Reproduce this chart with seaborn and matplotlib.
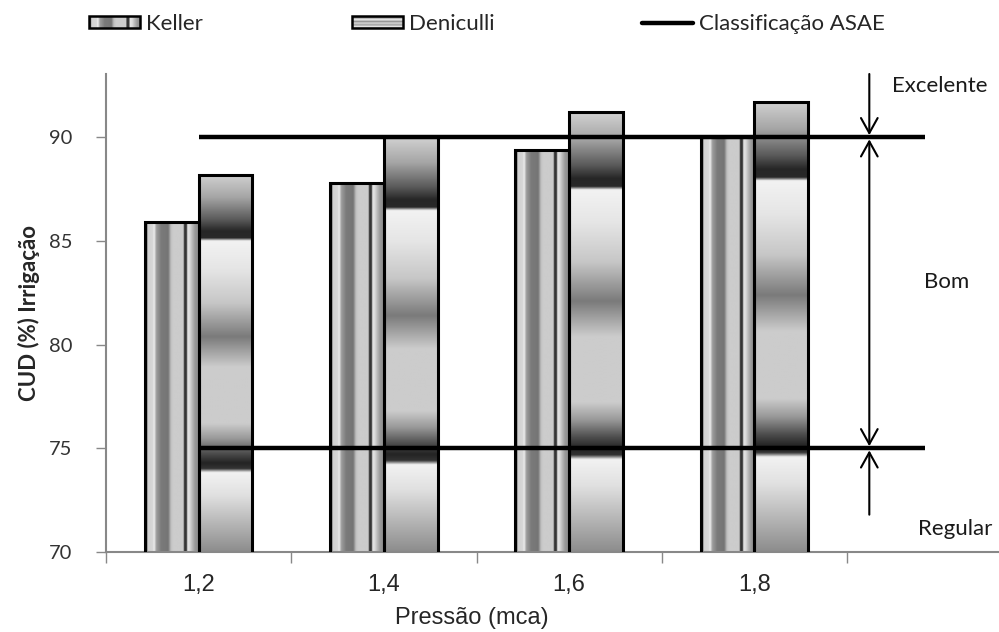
import numpy as np
import pandas as pd
import matplotlib
matplotlib.use("Agg")
import matplotlib.pyplot as plt
import seaborn as sns
from matplotlib.patches import Rectangle, Patch
from matplotlib.lines import Line2D
from matplotlib.legend_handler import HandlerBase
from matplotlib.image import BboxImage
from matplotlib.transforms import Bbox, TransformedBbox

# ---- data ----
categories = ["1,2", "1,4", "1,6", "1,8"]
series = ["Keller", "Deniculli"]
keller = [85.9, 87.8, 89.4, 90.0]
deniculli = [88.2, 90.0, 91.2, 91.7]
asae_levels = [90, 75]
asae_label = "Classificação ASAE"
classes = ["Excelente", "Bom", "Regular"]
y_ticks = [70, 75, 80, 85, 90]

sns.set_theme(style="white")
plt.rcParams["font.family"] = ["Lato", "DejaVu Sans"]

# chrome-like shading stops (position, grey level)
stripe_stops = [(0.00, 0.35), (0.035, 0.35), (0.05, 0.82), (0.14, 0.84), (0.17, 0.93),
                (0.21, 0.62), (0.30, 0.48), (0.43, 0.46), (0.48, 0.75), (0.52, 0.80),
                (0.71, 0.80), (0.73, 0.20), (0.77, 0.22), (0.79, 0.90), (0.83, 0.86),
                (0.88, 0.72), (0.93, 0.60), (1.00, 0.55)]
band_stops = [(0.00, 0.82), (0.06, 0.65), (0.12, 0.35), (0.15, 0.15), (0.168, 0.16),
              (0.176, 0.95), (0.25, 0.90), (0.34, 0.78), (0.43, 0.48), (0.51, 0.80),
              (0.66, 0.80), (0.70, 0.60), (0.74, 0.30), (0.765, 0.14), (0.78, 0.20),
              (0.79, 0.95), (0.85, 0.88), (1.00, 0.55)]


def shade(stops, n=400):
    pos, val = zip(*stops)
    g = np.interp(np.linspace(0, 1, n), pos, val)
    return np.repeat(g[:, None], 3, axis=1)


stripes = shade(stripe_stops)[None, :, :]      # varies across width
bands = shade(band_stops)[:, None, :]          # varies from top to bottom

df = pd.DataFrame({
    "Pressão": categories * 2,
    "CUD": keller + deniculli,
    "Método": [series[0]] * len(keller) + [series[1]] * len(deniculli),
})

fig = plt.figure(figsize=(9.99, 6.32), dpi=100)
ax = fig.add_axes([106 / 999, 80 / 632, 893 / 999, 478 / 632])

sns.barplot(data=df, x="Pressão", y="CUD", hue="Método", order=categories,
            hue_order=series, width=0.58, gap=0, dodge=True, ax=ax,
            legend=False, edgecolor="black", linewidth=2.2, errorbar=None)

ymin, ymax = 70, 93.05
xmin, xmax = -0.5, 4.32
n = len(categories)
for i, bar in enumerate(ax.patches):
    fill = stripes if i < n else bands
    x0 = bar.get_x()
    w = bar.get_width()
    top = bar.get_y() + bar.get_height()
    im = ax.imshow(fill, extent=[x0, x0 + w, ymin, top], aspect="auto",
                   origin="upper", interpolation="bilinear", zorder=2)
    im.set_clip_path(bar)
    bar.set_facecolor("none")
    bar.set_zorder(3)

# ASAE classification limits
ax.hlines(asae_levels, 0, 3.92, colors="black", linewidth=3.2, zorder=4)

# class arrows
arrow_x = 3.62
head = "head_length=0.9,head_width=0.5"
ax.annotate("", xy=(arrow_x, asae_levels[0] + 0.1), xytext=(arrow_x, ymax),
            arrowprops=dict(arrowstyle="->," + head, lw=1.5, color="black",
                            shrinkA=0, shrinkB=0), annotation_clip=False)
ax.annotate("", xy=(arrow_x, asae_levels[0] - 0.1), xytext=(arrow_x, asae_levels[1] + 0.1),
            arrowprops=dict(arrowstyle="<->," + head, lw=1.5, color="black",
                            shrinkA=0, shrinkB=0))
ax.annotate("", xy=(arrow_x, asae_levels[1] - 0.1), xytext=(arrow_x, 71.8),
            arrowprops=dict(arrowstyle="->," + head, lw=1.5, color="black",
                            shrinkA=0, shrinkB=0))

ax.text(3.745, 92.45, classes[0], fontsize=16, ha="left", va="center", color="#1a1a1a")
ax.text(4.04, 83.0, classes[1], fontsize=16, ha="center", va="center", color="#1a1a1a")
ax.text(3.885, 71.1, classes[2], fontsize=16, ha="left", va="center", color="#1a1a1a")

# axes styling
ax.set_xlim(xmin, xmax)
ax.set_ylim(ymin, ymax)
ax.set_yticks(y_ticks)
ax.set_yticklabels([str(t) for t in y_ticks], fontsize=14.5, color="#333333")
ax.set_xticks(np.arange(-0.5, n, 1.0))
ax.set_xticklabels([])
ax.set_xticks(range(n), minor=True)
ax.set_xticklabels(categories, minor=True, fontsize=17, family="Liberation Sans")
ax.tick_params(axis="x", which="major", direction="out", length=8, width=1, color="#888888", bottom=True)
ax.tick_params(axis="x", which="minor", length=0, pad=16)
ax.tick_params(axis="y", direction="out", length=7, width=1, color="#888888", left=True, pad=17)

for side in ("top", "right"):
    ax.spines[side].set_visible(False)
for side in ("left", "bottom"):
    ax.spines[side].set_color("#888888")
    ax.spines[side].set_linewidth(1.5)

ax.set_xlabel("Pressão (mca)", fontsize=17, family="Liberation Sans")
ax.xaxis.set_label_coords(0.41, -0.116)
ax.set_ylabel("CUD (%) Irrigação", fontsize=16, fontweight="bold")
ax.yaxis.set_label_coords(-0.074, 0.5)
ax.grid(False)


class GradientHandler(HandlerBase):
    def __init__(self, data):
        super().__init__()
        self.data = data

    def create_artists(self, legend, orig_handle, xdescent, ydescent,
                       width, height, fontsize, trans):
        box = TransformedBbox(Bbox.from_bounds(-xdescent, -ydescent, width, height), trans)
        img = BboxImage(box, interpolation="bilinear")
        img.set_data(self.data)
        frame = Rectangle((-xdescent, -ydescent), width, height, facecolor="none",
                          edgecolor="black", linewidth=1.8, transform=trans)
        return [img, frame]


h_keller = Patch(label=series[0])
h_deni = Patch(label=series[1])
h_line = Line2D([], [], color="black", linewidth=3.2, label=asae_label)
entries = [(h_keller, 89, GradientHandler(stripes)),
           (h_deni, 352, GradientHandler(bands[::40][:, [0] * 12, :])),
           (h_line, 642, None)]
for handle, x_px, handler in entries:
    fig.legend(handles=[handle], frameon=False, loc="center left",
               bbox_to_anchor=(x_px / 999, 1 - 24 / 632), borderpad=0,
               borderaxespad=0, fontsize=16, handlelength=2.3, handleheight=0.45,
               handletextpad=0.27,
               handler_map={handle: handler} if handler else None)

fig.savefig("out.png", dpi=100, facecolor="white")
